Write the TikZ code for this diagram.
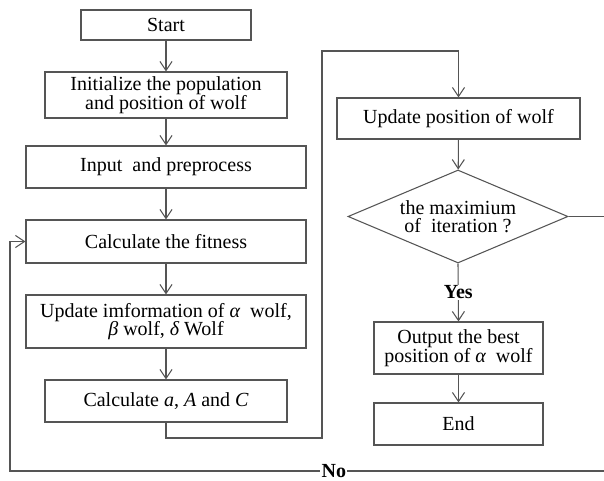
\documentclass[tikz,border=0pt]{standalone}
\usepackage{fontspec}
\setmainfont{Liberation Serif}
\usetikzlibrary{arrows.meta,positioning,calc,shapes.geometric}
\definecolor{linegray}{HTML}{555555}

\begin{document}
\begin{tikzpicture}[
    x=0.75pt, y=-0.75pt,
    font=\rmfamily\fontsize{15}{13.8}\selectfont,
    >={Straight Barb[length=2.4mm, width=3.2mm]},
    box/.style={draw=linegray, line width=0.8pt, rectangle, align=center, inner sep=1pt, text=black},
    decide/.style={draw=linegray, line width=0.8pt, diamond, aspect=2.37, align=center, inner sep=0pt, text=black},
    flow/.style={->, linegray, line width=0.8pt},
    answer/.style={font=\rmfamily\fontsize{15}{14}\selectfont\bfseries, fill=white, text=black, inner sep=1pt},
]
    \useasboundingbox (0,0) rectangle (604,481);
    \clip (0,0) rectangle (604,481);

    % --- Left column ---
    \node[box, minimum width=127.5pt, minimum height=22.5pt] (start) at (166,25) {Start};
    \node[box, minimum width=181.5pt, minimum height=34.5pt] (init) at (166,95) {Initialize the population\\and position of wolf};
    \node[box, minimum width=210pt, minimum height=31.5pt] (input) at (166,167) {Input~~and preprocess};
    \node[box, minimum width=210pt, minimum height=32.25pt] (fit) at (166,241.5) {Calculate the fitness};
    \node[box, minimum width=210pt, minimum height=39.75pt] (info) at (166,321.5) {Update imformation of {\itshape α}~~wolf,\\{\itshape β} wolf, {\itshape δ} Wolf};
    \node[box, minimum width=181.5pt, minimum height=31.5pt] (calc) at (166,401) {Calculate {\itshape a}, {\itshape A} and {\itshape C}};

    % --- Right column ---
    \node[box, minimum width=182.25pt, minimum height=30.75pt] (updpos) at (458.5,118.5) {Update position of wolf};
    \node[decide, minimum width=165pt, minimum height=69.75pt] (maxit) at (458,216.5) {the maximium\\of~~iteration ?};
    \node[box, minimum width=126.75pt, minimum height=39pt] (output) at (458.5,348) {Output the best\\position of {\itshape α}~~wolf};
    \node[box, minimum width=126.75pt, minimum height=31.5pt] (end) at (458.5,424) {End};

    % --- Joints ---
    \coordinate (j1) at (322,438);
    \coordinate (j2) at (322,51);
    \coordinate (n1) at (640,216.5);
    \coordinate (n2) at (640,471);
    \coordinate (n3) at (10,471);

    % --- Main flow ---
    \draw[flow] (start) -- (init);
    \draw[flow] (init) -- (input);
    \draw[flow] (input) -- (fit);
    \draw[flow] (fit) -- (info);
    \draw[flow] (info) -- (calc);
    \draw[flow] (calc.south) |- (j1) -- (j2) -| (updpos.north);
    \draw[flow] (updpos) -- (maxit);
    \draw[flow] (maxit.south) -- node[answer] {Yes} (output.north);
    \draw[flow] (output) -- (end);

    % --- Loop back ---
    \draw[flow] (maxit.east) -- (n1) -- (n2) -- node[answer, pos=0.486] {No} (n3) |- (fit.west);

\end{tikzpicture}
\end{document}
